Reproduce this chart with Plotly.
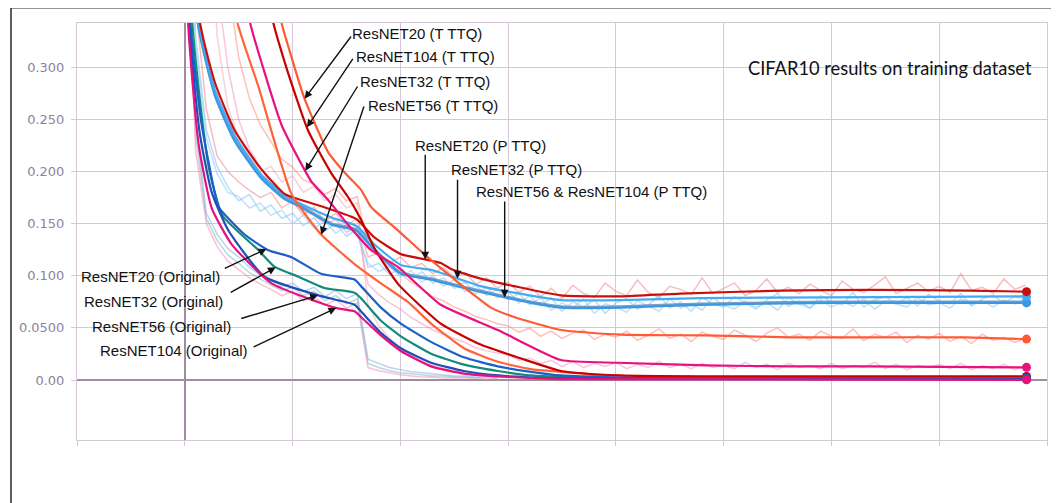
import numpy as np
import plotly.graph_objects as go

# ---------------- axes ----------------
XMIN, XMAX = -20, 160
YMIN, YMAX = -0.0575, 0.3425
x_grid = [-20, 0, 20, 40, 60, 80, 100, 120, 140, 160]
y_ticks = [0.0, 0.05, 0.10, 0.15, 0.20, 0.25, 0.30]
y_ticktext = ["0.00", "0.0500", "0.100", "0.150", "0.200", "0.250", "0.300"]

# ---------------- raw (unsmoothed) curves, every 2 epochs ----------------
raw_epochs = list(range(0, 157, 2))

raw_pttq_blue = [0.60, 0.33, 0.24, 0.205, 0.185, 0.172, 0.178, 0.162, 0.168, 0.155,
                 0.160, 0.148, 0.156, 0.143, 0.150, 0.138, 0.145, 0.108, 0.112, 0.101,
                 0.108, 0.097, 0.104, 0.093, 0.098, 0.088, 0.094, 0.083, 0.089, 0.079,
                 0.085, 0.074, 0.081, 0.071, 0.079, 0.066, 0.075, 0.070, 0.077, 0.064,
                 0.074, 0.078, 0.068, 0.072, 0.081, 0.069, 0.075, 0.066, 0.079, 0.073,
                 0.070, 0.080, 0.074, 0.068, 0.077, 0.083, 0.071, 0.076, 0.069, 0.081,
                 0.075, 0.072, 0.084, 0.070, 0.077, 0.080, 0.073, 0.079, 0.071, 0.082,
                 0.076, 0.073, 0.083, 0.071, 0.078, 0.081, 0.074, 0.080, 0.077]
raw_pttq_blue2 = [0.58, 0.32, 0.232, 0.198, 0.180, 0.176, 0.165, 0.170, 0.158, 0.163,
                  0.150, 0.158, 0.146, 0.152, 0.141, 0.147, 0.139, 0.112, 0.104, 0.109,
                  0.099, 0.105, 0.094, 0.100, 0.090, 0.096, 0.085, 0.091, 0.081, 0.087,
                  0.077, 0.083, 0.072, 0.079, 0.067, 0.074, 0.069, 0.078, 0.064, 0.073,
                  0.070, 0.065, 0.076, 0.071, 0.066, 0.078, 0.069, 0.073, 0.067, 0.079,
                  0.072, 0.068, 0.076, 0.070, 0.074, 0.067, 0.079, 0.073, 0.069, 0.077,
                  0.070, 0.075, 0.071, 0.078, 0.068, 0.076, 0.073, 0.070, 0.079, 0.072,
                  0.074, 0.069, 0.078, 0.072, 0.076, 0.070, 0.077, 0.073, 0.075]
raw_pttq_red = [0.62, 0.36, 0.26, 0.215, 0.200, 0.190, 0.182, 0.175, 0.180, 0.165,
                0.172, 0.158, 0.166, 0.152, 0.160, 0.148, 0.155, 0.118, 0.122, 0.112,
                0.118, 0.108, 0.112, 0.102, 0.108, 0.098, 0.103, 0.092, 0.098, 0.088,
                0.094, 0.084, 0.090, 0.080, 0.088, 0.078, 0.091, 0.083, 0.079, 0.093,
                0.085, 0.081, 0.096, 0.084, 0.079, 0.090, 0.087, 0.082, 0.098, 0.083,
                0.088, 0.093, 0.081, 0.086, 0.097, 0.084, 0.089, 0.083, 0.092, 0.086,
                0.081, 0.095, 0.087, 0.084, 0.091, 0.099, 0.083, 0.088, 0.093, 0.085,
                0.090, 0.084, 0.102, 0.086, 0.089, 0.083, 0.097, 0.087, 0.091]
raw_tttq20 = [1.20, 0.90, 0.65, 0.48, 0.38, 0.31, 0.27, 0.245, 0.228, 0.212,
              0.204, 0.192, 0.188, 0.178, 0.184, 0.172, 0.176, 0.128, 0.120, 0.108,
              0.102, 0.094, 0.088, 0.080, 0.076, 0.070, 0.066, 0.061, 0.058, 0.054,
              0.052, 0.046, 0.050, 0.042, 0.047, 0.040, 0.045, 0.048, 0.039, 0.044,
              0.041, 0.047, 0.038, 0.043, 0.049, 0.040, 0.044, 0.037, 0.046, 0.042,
              0.039, 0.048, 0.043, 0.037, 0.045, 0.050, 0.041, 0.044, 0.038, 0.047,
              0.042, 0.040, 0.049, 0.038, 0.044, 0.041, 0.046, 0.036, 0.043, 0.039,
              0.045, 0.037, 0.042, 0.035, 0.044, 0.038, 0.041, 0.036, 0.040]
raw_tttq32 = [1.00, 0.75, 0.52, 0.38, 0.30, 0.25, 0.222, 0.204, 0.188, 0.178,
              0.170, 0.162, 0.158, 0.150, 0.154, 0.142, 0.146, 0.092, 0.082, 0.074,
              0.068, 0.060, 0.054, 0.048, 0.044, 0.040, 0.036, 0.031, 0.028, 0.026,
              0.024, 0.019, 0.021, 0.016, 0.019, 0.013, 0.018, 0.012, 0.016, 0.013,
              0.017, 0.011, 0.015, 0.012, 0.018, 0.012, 0.015, 0.011, 0.016, 0.012,
              0.014, 0.011, 0.017, 0.012, 0.015, 0.010, 0.016, 0.012, 0.014, 0.011,
              0.016, 0.011, 0.014, 0.012, 0.017, 0.011, 0.015, 0.010, 0.014, 0.012,
              0.015, 0.011, 0.016, 0.010, 0.014, 0.011, 0.015, 0.010, 0.013]
raw_tttq104 = [1.10, 0.80, 0.50, 0.33, 0.262, 0.232, 0.215, 0.200, 0.205, 0.190,
               0.196, 0.180, 0.186, 0.172, 0.178, 0.165, 0.170, 0.072, 0.052, 0.040,
               0.031, 0.024, 0.018, 0.014, 0.011, 0.009, 0.007, 0.006, 0.005, 0.005,
               0.004, 0.005, 0.003, 0.004, 0.003, 0.004, 0.003, 0.004, 0.003, 0.003,
               0.004, 0.003, 0.004, 0.003, 0.003, 0.004, 0.003, 0.004, 0.003, 0.003]
raw_orig_blue = [0.55, 0.25, 0.160, 0.140, 0.126, 0.118, 0.108, 0.101, 0.096, 0.090,
                 0.093, 0.085, 0.089, 0.080, 0.086, 0.078, 0.083, 0.020, 0.016, 0.012,
                 0.010, 0.008, 0.007, 0.006, 0.005, 0.004, 0.004, 0.003, 0.004, 0.003,
                 0.003, 0.004, 0.002, 0.003, 0.004, 0.002, 0.003, 0.002, 0.004, 0.003,
                 0.002, 0.003, 0.004, 0.002, 0.003, 0.002, 0.003, 0.004, 0.002, 0.003]
raw_orig_teal = [0.52, 0.235, 0.155, 0.134, 0.120, 0.112, 0.103, 0.097, 0.091, 0.086,
                 0.089, 0.081, 0.085, 0.076, 0.081, 0.073, 0.078, 0.016, 0.012, 0.009,
                 0.007, 0.006, 0.005, 0.004, 0.004, 0.003, 0.003, 0.002, 0.003, 0.002]
raw_orig_pink = [0.50, 0.22, 0.150, 0.128, 0.114, 0.106, 0.098, 0.092, 0.087, 0.081,
                 0.085, 0.076, 0.080, 0.072, 0.077, 0.069, 0.074, 0.012, 0.009, 0.007,
                 0.005, 0.004, 0.003, 0.003, 0.002, 0.002, 0.002, 0.002, 0.001, 0.002]

# ---------------- smoothed curves ----------------
orig20_x = [0, 0.93, 3.1, 5.6, 6.3, 11.1, 15.5, 19.8, 25.3, 31.5, 32.7, 36.4, 40.1, 45.7, 51.8, 58.1, 64.2, 69.8, 86.4, 114.2, 156.2]
orig20_y = [1.5, 0.35, 0.246, 0.1786, 0.1658, 0.1396, 0.1245, 0.1179, 0.1019, 0.0964, 0.0901, 0.0695, 0.0542, 0.0366, 0.0218, 0.0131, 0.0079, 0.0044, 0.0017, 0.0017, 0.0017]
orig32_x = [0, 1.3, 4.4, 7.0, 13.7, 16.7, 21.1, 25.9, 31.5, 32.7, 36.4, 40.1, 45.7, 51.8, 58.1, 64.2, 77.2, 156.2]
orig32_y = [1.5, 0.35, 0.2054, 0.1579, 0.1245, 0.1085, 0.0991, 0.0883, 0.0838, 0.0785, 0.0569, 0.0419, 0.0253, 0.0148, 0.0087, 0.0044, 0.0017, 0.0013]
orig56_x = [0, 0.74, 2.8, 5.0, 8.1, 14.8, 24.8, 31.5, 32.7, 36.4, 40.1, 45.7, 51.8, 58.1, 69.8, 156.2]
orig56_y = [1.5, 0.35, 0.236, 0.180, 0.1434, 0.0991, 0.0812, 0.0722, 0.0659, 0.0453, 0.0305, 0.0166, 0.0087, 0.0044, 0.0017, 0.0009]
orig104_x = [0, 0.55, 2.6, 5.0, 8.7, 16.1, 27.8, 31.5, 32.7, 36.4, 40.1, 45.7, 51.8, 58.1, 69.8, 156.2]
orig104_y = [1.5, 0.35, 0.225, 0.165, 0.1302, 0.0928, 0.0695, 0.0659, 0.0605, 0.0428, 0.0279, 0.0131, 0.0061, 0.0035, 0.0009, 0.0002]

pttq20_x = [0, 2.6, 5.6, 9.3, 14.2, 18.5, 21.6, 25.9, 31.3, 32.2, 35.2, 40.1, 44.4, 47.5, 49.4, 54.9, 61.1, 69.8, 80.9, 92, 110.5, 127.1, 145.6, 156.2]
pttq20_y = [1.2, 0.35, 0.2852, 0.2391, 0.2023, 0.1786, 0.1727, 0.1658, 0.1559, 0.153, 0.1368, 0.1208, 0.116, 0.1123, 0.1066, 0.0973, 0.0901, 0.0812, 0.0803, 0.083, 0.0857, 0.0865, 0.0857, 0.0848]
pttq32_x = [0, 2.4, 5.6, 9.3, 14.2, 18.5, 21.6, 27.2, 31.8, 35.2, 40.1, 45.7, 48.1, 50.7, 54.9, 61.1, 69.8, 80.9, 95.7, 119.7, 156.2]
pttq32_y = [1.2, 0.35, 0.278, 0.234, 0.197, 0.1776, 0.1688, 0.156, 0.148, 0.130, 0.1104, 0.1057, 0.1019, 0.0973, 0.0901, 0.0838, 0.0767, 0.0767, 0.0785, 0.0794, 0.0803]
pttq56_x = [0, 2.2, 5.6, 9.3, 14.2, 18.5, 21.6, 27.2, 31.8, 35.2, 40.1, 45.7, 51.8, 59.2, 64.2, 69.8, 80.9, 95.7, 119.7, 156.2]
pttq56_y = [1.2, 0.35, 0.2725, 0.2288, 0.1934, 0.1737, 0.1658, 0.1491, 0.1434, 0.1245, 0.1019, 0.0964, 0.0883, 0.0794, 0.074, 0.0695, 0.0695, 0.0722, 0.074, 0.074]
pttq104_y = [1.2, 0.35, 0.2745, 0.2305, 0.1952, 0.1752, 0.1672, 0.1505, 0.1447, 0.1258, 0.1031, 0.0975, 0.0895, 0.0806, 0.0752, 0.0707, 0.0707, 0.0734, 0.0752, 0.0752]

tttq20_x = [0, 6, 12, 17.6, 19.8, 22.2, 26.6, 30.3, 32.7, 34.6, 39.6, 44.4, 48.8, 53.1, 56.8, 61.1, 69.8, 80.9, 96.9, 112.3, 127.1, 145, 156.2]
tttq20_y = [2.3, 1.1, 0.6, 0.35, 0.3098, 0.2703, 0.2187, 0.1954, 0.1825, 0.1658, 0.1434, 0.1208, 0.1019, 0.0838, 0.0695, 0.0605, 0.048, 0.0436, 0.0428, 0.041, 0.041, 0.041, 0.0393]
tttq104_x = [0, 6, 11, 16.1, 18.9, 22.9, 27.2, 30.3, 32.7, 35.2, 39.6, 47.5, 54.9, 62.3, 69.8, 80.9, 95.7, 156.2]
tttq104_y = [2.3, 1.0, 0.6, 0.35, 0.299, 0.2391, 0.1983, 0.1756, 0.154, 0.1264, 0.092, 0.0542, 0.034, 0.0209, 0.0087, 0.0044, 0.0035, 0.0035]
tttq32_x = [0, 5, 9, 11.8, 15.2, 18.0, 21.3, 23.5, 26.6, 30.3, 34.6, 39.6, 47.5, 58.1, 69.8, 80.3, 96.9, 112.3, 126.5, 156.2]
tttq32_y = [2.3, 1.0, 0.55, 0.35, 0.2884, 0.2442, 0.2105, 0.1904, 0.1727, 0.149, 0.1245, 0.1083, 0.0722, 0.048, 0.0192, 0.0166, 0.014, 0.0131, 0.0131, 0.0122]
tttq56_x = [0, 4, 7, 9.4, 13.7, 19.8, 25.3, 31.5, 36.4, 41.4, 45.7, 51.8, 58.1, 64.2, 69.8, 80.9, 156.2]
tttq56_y = [2.3, 1.0, 0.5, 0.35, 0.281, 0.1786, 0.1396, 0.1113, 0.0928, 0.0749, 0.0542, 0.0305, 0.0175, 0.0105, 0.0079, 0.0035, 0.003]

# ---------------- styling ----------------
GRID = "#D6C8D6"
ZERO = "#9F8CA3"
TICK = "#8F7F9B"

raw_series = [
    (raw_tttq104, "rgba(240,140,150,0.40)"),
    (raw_tttq32, "rgba(240,110,170,0.40)"),
    (raw_tttq20, "rgba(255,130,110,0.50)"),
    (raw_orig_teal, "rgba(120,190,180,0.55)"),
    (raw_orig_pink, "rgba(245,150,190,0.60)"),
    (raw_orig_blue, "rgba(140,180,235,0.60)"),
    (raw_pttq_red, "rgba(240,125,125,0.50)"),
    (raw_pttq_blue2, "rgba(150,205,245,0.60)"),
    (raw_pttq_blue, "rgba(135,200,245,0.60)"),
]

smooth_series = {
    "pttq104": (pttq56_x, pttq104_y, "#7E9CC2"),
    "pttq56": (pttq56_x, pttq56_y, "#3A98E2"),
    "pttq32": (pttq32_x, pttq32_y, "#44AAF2"),
    "pttq20": (pttq20_x, pttq20_y, "#C8100E"),
    "tttq56": (tttq56_x, tttq56_y, "#FF6438"),
    "tttq104": (tttq104_x, tttq104_y, "#C80000"),
    "tttq32": (tttq32_x, tttq32_y, "#E8127F"),
    "tttq20": (tttq20_x, tttq20_y, "#FF5A36"),
    "orig32": (orig32_x, orig32_y, "#138A7C"),
    "orig20": (orig20_x, orig20_y, "#1B60C8"),
    "orig56": (orig56_x, orig56_y, "#1E50B8"),
    "orig104": (orig104_x, orig104_y, "#E5127D"),
}

fig = go.Figure()
for vals, col in raw_series:
    fig.add_trace(go.Scatter(x=raw_epochs[:len(vals)], y=vals, mode="lines",
                             line=dict(color=col, width=1.5), hoverinfo="skip"))

for name, (xs, ys, col) in smooth_series.items():
    fig.add_trace(go.Scatter(x=xs, y=ys, mode="lines", name=name,
                             line=dict(color=col, width=2.2, shape="spline", smoothing=0.5)))
for name, (xs, ys, col) in smooth_series.items():
    fig.add_trace(go.Scatter(x=[xs[-1]], y=[ys[-1]], mode="markers",
                             marker=dict(color=col, size=9), hoverinfo="skip"))

# page has an 8px body margin: figure is placed at (8, 8) in the window
OFF = 8
W, H = 1059 - OFF, 503 - OFF
PL, PR, PT, PB = 75, 1048, 23, 440      # plot area in window pixels


def px2x(px):
    return (px - PL) / (PR - PL) * (XMAX - XMIN) + XMIN


def py2y(py):
    return YMIN + (PB - py) / (PB - PT) * (YMAX - YMIN)


FONT = dict(family="Liberation Sans, Arial, sans-serif", size=15, color="#111111")

labels = [
    ("ResNET20 (T TTQ)", 351.7, 33.3),
    ("ResNET104 (T TTQ)", 356.0, 56.7),
    ("ResNET32 (T TTQ)", 360.0, 81.7),
    ("ResNET56 (T TTQ)", 367.7, 105.0),
    ("ResNET20 (P TTQ)", 415.0, 145.0),
    ("ResNET32 (P TTQ)", 451.0, 169.3),
    ("ResNET56 & ResNET104 (P TTQ)", 476.7, 191.7),
    ("ResNET20 (Original)", 80.0, 276.7),
    ("ResNET32 (Original)", 83.3, 301.7),
    ("ResNET56 (Original)", 90.7, 326.0),
    ("ResNET104 (Original)", 99.3, 350.0),
]
for txt, lx, ly in labels:
    fig.add_annotation(x=px2x(lx), y=py2y(ly), text=txt, showarrow=False,
                       xanchor="left", yanchor="middle", font=FONT,
                       borderpad=0, xshift=-2)

# arrows: (series, tip x pixel, tail pixel)
arrows = [
    ("tttq20", 303.3, 351.0, 35.0),
    ("tttq104", 305.7, 352.7, 57.3),
    ("tttq32", 304.0, 357.3, 85.0),
    ("tttq56", 320.0, 363.3, 105.0),
    ("pttq20", 424.3, 424.3, 153.3),
    ("pttq32", 456.7, 456.7, 178.3),
    ("pttq56", 504.0, 504.0, 200.0),
    ("orig20", 265.0, 221.7, 269.0),
    ("orig32", 274.3, 227.7, 293.3),
    ("orig56", 316.7, 238.3, 319.0),
    ("orig104", 335.0, 250.7, 347.7),
]
for name, tipx, tx, ty in arrows:
    xs, ys, _ = smooth_series[name]
    xt = px2x(tipx)
    yt = float(np.interp(xt, xs, ys))
    fig.add_annotation(x=xt, y=yt, ax=px2x(tx), ay=py2y(ty), axref="x", ayref="y",
                       text="", showarrow=True, arrowhead=2, arrowsize=1.1,
                       arrowwidth=1.4, arrowcolor="#111111", standoff=0)

fig.add_annotation(x=px2x(890.8), y=py2y(68.3), text="CIFAR10 results on training dataset",
                   showarrow=False, xanchor="center", yanchor="middle",
                   font=dict(family="Lato, Carlito, sans-serif", size=18.3, color="#111111"))

# outer frame (left and top edges visible, the rest runs off the picture)
fig.add_shape(type="rect", xref="paper", yref="paper",
              x0=(OFF + 0.8 - PL) / (PR - PL), x1=1.3, y0=-0.5,
              y1=(PB - OFF - 0.8 + 1) / (PB - PT),
              line=dict(color="#2A2A2A", width=1.5), fillcolor="rgba(0,0,0,0)", layer="above")

fig.update_layout(
    width=W, height=H,
    margin=dict(l=PL - OFF, r=W - (PR - OFF), t=PT - OFF, b=H - (PB - OFF)),
    paper_bgcolor="white", plot_bgcolor="white",
    showlegend=False,
    xaxis=dict(range=[XMIN, XMAX], tickvals=x_grid, showticklabels=False,
               ticks="outside", ticklen=5, tickcolor=GRID,
               showgrid=True, gridcolor=GRID, gridwidth=1,
               zeroline=True, zerolinecolor=ZERO, zerolinewidth=2,
               showline=True, linecolor=GRID, linewidth=1, mirror=True),
    yaxis=dict(range=[YMIN, YMAX], tickvals=y_ticks, ticktext=y_ticktext,
               tickfont=dict(family="DejaVu Sans, sans-serif", size=13, color=TICK),
               ticks="outside", ticklen=5, tickcolor=GRID, ticklabelstandoff=4,
               showgrid=True, gridcolor=GRID, gridwidth=1,
               zeroline=True, zerolinecolor=ZERO, zerolinewidth=1.5,
               showline=True, linecolor=GRID, linewidth=1, mirror=True),
)

fig.write_html("out.html")
